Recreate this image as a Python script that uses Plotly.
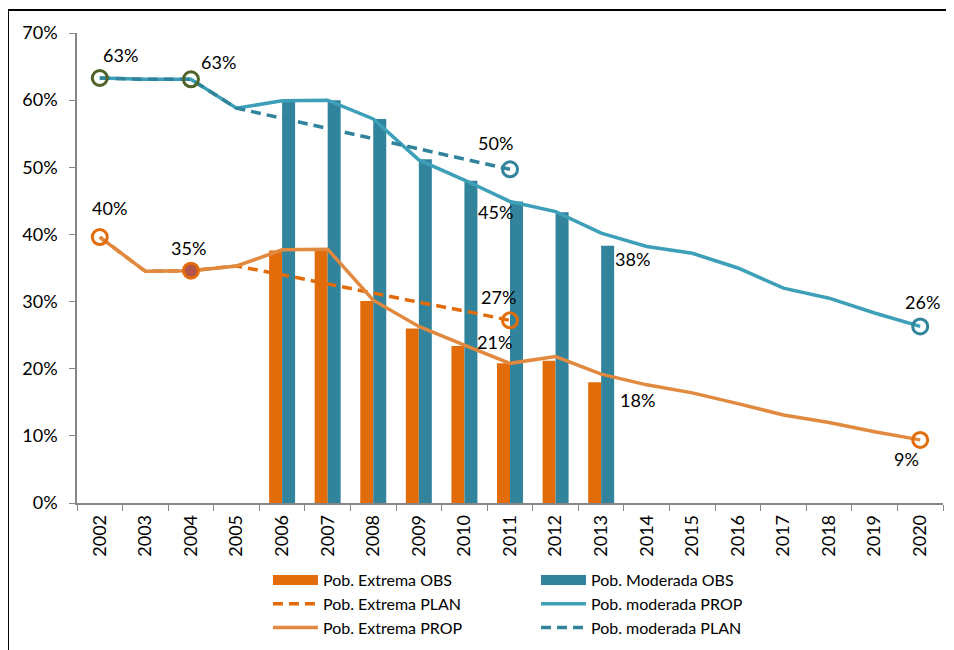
import plotly.graph_objects as go

years = [str(y) for y in range(2002, 2021)]
obs_years = [str(y) for y in range(2006, 2014)]
plan_years = [str(y) for y in range(2002, 2012)]

ext_obs = [37.6, 37.6, 30.1, 26.0, 23.4, 20.8, 21.2, 18.0]
mod_obs = [59.9, 60.0, 57.2, 51.2, 48.0, 44.9, 43.3, 38.3]

ext_plan = [39.6, 34.5, 34.6, 35.3, 34.0, 32.6, 31.3, 29.9, 28.6, 27.2]
mod_plan = [63.3, 63.1, 63.1, 58.8, 57.3, 55.8, 54.2, 52.7, 51.2, 49.7]

ext_prop = [39.6, 34.5, 34.6, 35.3, 37.7, 37.8, 30.2, 26.3, 23.5, 20.8,
            21.8, 19.2, 17.6, 16.4, 14.8, 13.1, 12.0, 10.6, 9.4]
mod_prop = [63.3, 63.1, 63.1, 58.8, 59.9, 60.0, 57.2, 51.1, 48.1, 44.9,
            43.4, 40.2, 38.2, 37.2, 35.0, 32.0, 30.5, 28.3, 26.3]

ORANGE = "#E36C0A"
ORANGE_L = "#E0893F"
TEAL = "#31849B"
TEAL_L = "#3DA0B8"
OLIVE = "#4F6228"
FONT = "Lato"

fig = go.Figure()

# bars (legend entries drawn by wide-swatch proxies below)
fig.add_trace(go.Bar(x=obs_years, y=ext_obs, name="Pob. Extrema OBS", showlegend=False,
                     marker=dict(color=ORANGE, line=dict(width=0))))
fig.add_trace(go.Bar(x=obs_years, y=mod_obs, name="Pob. Moderada OBS", showlegend=False,
                     marker=dict(color=TEAL, line=dict(width=0))))

# legend proxies for the bars
fig.add_trace(go.Scatter(x=[None], y=[None], mode="lines", name="Pob. Extrema OBS",
                         legend="legend", line=dict(color=ORANGE, width=11)))
fig.add_trace(go.Scatter(x=[None], y=[None], mode="lines", name="Pob. Moderada OBS",
                         legend="legend2", line=dict(color=TEAL, width=11)))

fig.add_trace(go.Scatter(x=plan_years, y=ext_plan, name="Pob. Extrema PLAN", mode="lines",
                         legend="legend",
                         line=dict(color=ORANGE, width=3.5, dash="10px,6px")))
fig.add_trace(go.Scatter(x=years, y=mod_prop, name="Pob. moderada PROP", mode="lines",
                         legend="legend2",
                         line=dict(color=TEAL_L, width=3.5)))
fig.add_trace(go.Scatter(x=years, y=ext_prop, name="Pob. Extrema PROP", mode="lines",
                         legend="legend",
                         line=dict(color=ORANGE_L, width=3.5)))
fig.add_trace(go.Scatter(x=plan_years, y=mod_plan, name="Pob. moderada PLAN", mode="lines",
                         legend="legend2",
                         line=dict(color=TEAL, width=3.5, dash="10px,6px")))

# markers
def mk(x, y, sym, fill, edge):
    fig.add_trace(go.Scatter(x=[x], y=[y], mode="markers", showlegend=False,
                             hoverinfo="skip", cliponaxis=False,
                             marker=dict(symbol=sym, size=15, color=fill,
                                         line=dict(color=edge, width=3))))

mk(years[0], mod_prop[0], "circle-open", OLIVE, OLIVE)
mk(years[2], mod_prop[2], "circle-open", OLIVE, OLIVE)
mk(years[0], ext_prop[0], "circle-open", ORANGE, ORANGE)
mk(years[2], ext_prop[2], "circle", "#B5544A", ORANGE)
mk(plan_years[-1], mod_plan[-1], "circle-open", TEAL, TEAL)
mk(plan_years[-1], ext_plan[-1], "circle-open", ORANGE, ORANGE)
mk(years[-1], mod_prop[-1], "circle-open", TEAL, TEAL)
mk(years[-1], ext_prop[-1], "circle-open", ORANGE, ORANGE)

# labels (value, category, xshift, yshift)
labels = [
    (mod_prop[0], years[0], 21, 23),
    (mod_prop[2], years[2], 28, 17),
    (ext_prop[0], years[0], 10, 29),
    (ext_prop[2], years[2], -2, 23),
    (mod_plan[-1], plan_years[-1], -15, 26),
    (mod_prop[9], years[9], -15, -10),
    (ext_plan[-1], plan_years[-1], -12, 23),
    (ext_prop[9], years[9], -16, 21),
    (mod_obs[-1], obs_years[-1], 31, -13),
    (ext_obs[-1], obs_years[-1], 36, -18),
    (mod_prop[-1], years[-1], 2, 24),
    (ext_prop[-1], years[-1], -14, -19),
]
for v, x, dx, dy in labels:
    fig.add_annotation(x=years.index(x), y=v, xref="x", yref="y", text=f"{v:.0f}%",
                       showarrow=False, xshift=dx, yshift=dy,
                       font=dict(family=FONT, size=18, color="black"))

# outer frame
fig.add_shape(type="rect", xref="paper", yref="paper",
              x0=-0.0797, x1=1.0058, y0=-0.36, y1=1.049,
              line=dict(color="black", width=2), fillcolor="rgba(0,0,0,0)")

legend_common = dict(orientation="v", xanchor="left", y=-0.1277, yanchor="top",
                     itemwidth=45, tracegroupgap=0, traceorder="normal",
                     font=dict(family=FONT, size=16, color="black"),
                     bgcolor="rgba(0,0,0,0)")

fig.update_layout(
    width=946, height=642,
    margin=dict(l=69, r=11, t=25, b=147, autoexpand=False),
    paper_bgcolor="white", plot_bgcolor="white",
    barmode="group", bargap=0.43, bargroupgap=0,
    font=dict(family=FONT, size=18, color="black"),
    showlegend=True,
    legend=dict(x=0.2205, **legend_common),
    legend2=dict(x=0.530, **legend_common),
    xaxis=dict(type="category", categoryorder="array", categoryarray=years,
               range=[-0.5, len(years) - 0.5], automargin=False,
               showline=True, linecolor="#868686", linewidth=1.5,
               ticks="outside", tickson="boundaries", ticklen=6, tickcolor="#868686",
               tickangle=-90, showgrid=False, zeroline=False, ticklabelstandoff=3,
               tickfont=dict(family=FONT, size=18, color="black")),
    yaxis=dict(range=[0, 70], dtick=10, ticksuffix="%", automargin=False,
               showline=True, linecolor="#868686", linewidth=1.5,
               ticks="outside", ticklen=6, tickcolor="#868686",
               showgrid=False, zeroline=False, ticklabelstandoff=8,
               tickfont=dict(family=FONT, size=18, color="black")),
)

fig.write_html("out.html")
